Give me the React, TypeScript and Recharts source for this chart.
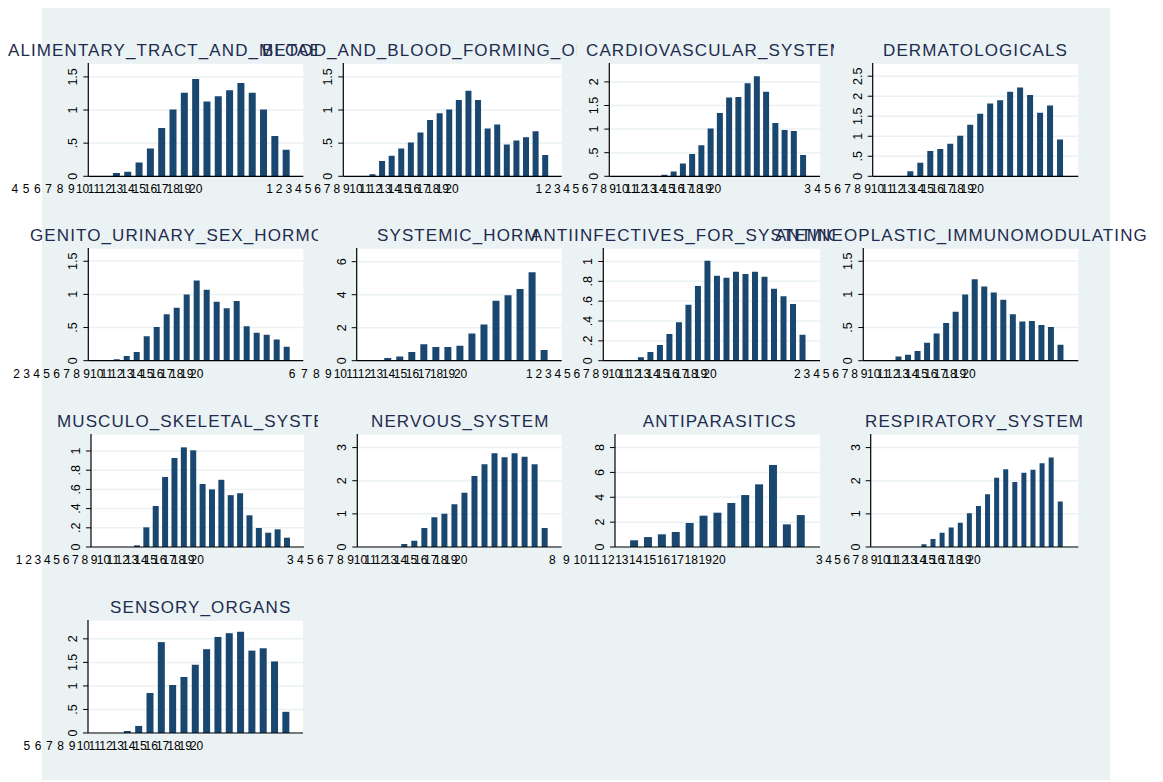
import React from 'react';
import { BarChart, Bar, XAxis, YAxis, CartesianGrid } from 'recharts';

// ---------- data ----------
const TITLES = [
  'ALIMENTARY_TRACT_AND_METABOLISM',
  'BLOOD_AND_BLOOD_FORMING_ORGANS',
  'CARDIOVASCULAR_SYSTEM',
  'DERMATOLOGICALS',
  'GENITO_URINARY_SEX_HORMONES',
  'SYSTEMIC_HORMONAL_PREPARATIONS',
  'ANTIINFECTIVES_FOR_SYSTEMIC_USE',
  'ANTINEOPLASTIC_IMMUNOMODULATING',
  'MUSCULO_SKELETAL_SYSTEM',
  'NERVOUS_SYSTEM',
  'ANTIPARASITICS',
  'RESPIRATORY_SYSTEM',
  'SENSORY_ORGANS',
];

const X_LABELS = [1, 2, 3, 4, 5, 6, 7, 8, 9, 10, 11, 12, 13, 14, 15, 16, 17, 18, 19, 20];

const ALIMENTARY = [0.05, 0.07, 0.21, 0.42, 0.73, 1.01, 1.26, 1.47, 1.13, 1.21, 1.3, 1.41, 1.26, 1.01, 0.61, 0.4];
const BLOOD = [0.03, 0.23, 0.31, 0.42, 0.51, 0.66, 0.85, 0.95, 1.01, 1.15, 1.29, 1.15, 0.72, 0.78, 0.48, 0.54, 0.59, 0.68, 0.32];
const CARDIO = [0.035, 0.1, 0.27, 0.47, 0.66, 1.01, 1.34, 1.67, 1.68, 1.97, 2.12, 1.79, 1.13, 0.98, 0.96, 0.45];
const DERMA = [0.125, 0.34, 0.63, 0.68, 0.81, 1.01, 1.29, 1.56, 1.82, 1.9, 2.11, 2.22, 2.03, 1.59, 1.77, 0.92];
const GENITO = [0.02, 0.07, 0.13, 0.37, 0.51, 0.7, 0.8, 1.0, 1.21, 1.07, 0.89, 0.79, 0.9, 0.52, 0.42, 0.39, 0.32, 0.21];
const SYSTEMIC = [0.16, 0.26, 0.52, 0.99, 0.83, 0.83, 0.91, 1.65, 2.2, 3.63, 3.97, 4.35, 5.36, 0.65];
const ANTIINF = [0.034, 0.087, 0.158, 0.27, 0.387, 0.565, 0.753, 1.008, 0.857, 0.837, 0.897, 0.874, 0.897, 0.847, 0.726, 0.649, 0.571, 0.262];
const ANTINEO = [0.065, 0.09, 0.146, 0.27, 0.41, 0.57, 0.74, 1.0, 1.23, 1.12, 1.03, 0.92, 0.7, 0.59, 0.6, 0.54, 0.51, 0.24];
const MUSCULO = [0.017, 0.205, 0.427, 0.729, 0.927, 1.038, 1.007, 0.656, 0.6, 0.7, 0.54, 0.56, 0.33, 0.198, 0.149, 0.184, 0.097];
const NERVOUS = [0.09, 0.19, 0.57, 0.9, 1.005, 1.29, 1.64, 2.14, 2.5, 2.83, 2.71, 2.83, 2.72, 2.5, 0.57];
const ANTIPAR = [0.54, 0.8, 1.02, 1.21, 1.93, 2.52, 2.76, 3.54, 4.18, 5.04, 6.6, 1.82, 2.57];
const RESP = [0.08, 0.24, 0.43, 0.59, 0.73, 1.02, 1.24, 1.59, 2.09, 2.35, 1.96, 2.24, 2.33, 2.53, 2.7, 1.37];
const SENSORY = [0.04, 0.15, 0.85, 1.93, 1.02, 1.19, 1.45, 1.78, 2.04, 2.12, 2.15, 1.75, 1.8, 1.52, 0.45];

const Y_15 = [0, 0.5, 1, 1.5];
const Y_20 = [0, 0.5, 1, 1.5, 2];
const Y_25 = [0, 0.5, 1, 1.5, 2, 2.5];
const Y_6 = [0, 2, 4, 6];
const Y_8 = [0, 2, 4, 6, 8];
const Y_1 = [0, 0.2, 0.4, 0.6, 0.8, 1];
const Y_3 = [0, 1, 2, 3];

// ---------- style ----------
const BG = '#eaf2f3';
const BAR = '#1a476f';
const GRID = '#eaf2f3';
const AXIS = '#000000';
const TITLE_COLOR = '#1e2b4f';
const FONT = '"Liberation Sans", Arial, Helvetica, sans-serif';

const ROWS = [
  { top: 62.7, bottom: 176, titleTop: 40.8 },
  { top: 248.3, bottom: 361, titleTop: 225.8 },
  { top: 434, bottom: 547, titleTop: 412.4 },
  { top: 620, bottom: 733, titleTop: 598 },
];

// layout of each panel (plot box in px, x-domain in slot units, first bar slot, label clip)
const PANELS = [
  { values: ALIMENTARY, yTicks: Y_15, row: 0, left: 88.3, right: 303.3, yMax: 1.71, lo: 10.5, hi: 29.5, first: 13, tLeft: 8, tClip: 317, lClip: 0 },
  { values: BLOOD, yTicks: Y_15, row: 0, left: 343.3, right: 561.7, yMax: 1.71, lo: 8.68, hi: 31.44, first: 11.7, tLeft: 262, tClip: 577, lClip: 262 },
  { values: CARDIO, yTicks: Y_20, row: 0, left: 609.3, right: 820, yMax: 2.4, lo: 8.63, hi: 31.42, first: 14.55, tLeft: 586, tClip: 834, lClip: 525 },
  { values: DERMA, yTicks: Y_25, row: 0, left: 872.7, right: 1078.3, yMax: 2.83, lo: 9.52, hi: 30.12, first: 13.29, tLeft: 883, tClip: 1163, lClip: 803 },
  { values: GENITO, yTicks: Y_15, row: 1, left: 88.3, right: 303.3, yMax: 1.7, lo: 9.16, hi: 30.66, first: 12, tLeft: 30, tClip: 318, lClip: 10 },
  { values: SYSTEMIC, yTicks: Y_6, row: 1, left: 356.7, right: 561.7, yMax: 6.83, lo: 11.36, hi: 28.4, first: 13.9, tLeft: 377, tClip: 537, lClip: 284 },
  { values: ANTIINF, yTicks: Y_1, row: 1, left: 603.3, right: 820, yMax: 1.136, lo: 8.78, hi: 31.57, first: 12.71, tLeft: 531, tClip: 834, lClip: 522 },
  { values: ANTINEO, yTicks: Y_15, row: 1, left: 863.3, right: 1078.3, yMax: 1.7, lo: 8.91, hi: 31.47, first: 12.58, tLeft: 775, tClip: 1163, lClip: 796 },
  { values: MUSCULO, yTicks: Y_1, row: 2, left: 91, right: 304, yMax: 1.177, lo: 8.67, hi: 31.39, first: 13.54, tLeft: 57, tClip: 318, lClip: 0 },
  { values: NERVOUS, yTicks: Y_3, row: 2, left: 357.3, right: 561.7, yMax: 3.41, lo: 9.68, hi: 30.07, first: 14.37, tLeft: 371, tClip: 1163, lClip: 282 },
  { values: ANTIPAR, yTicks: Y_8, row: 2, left: 615, right: 820, yMax: 9.09, lo: 12.51, hi: 27.27, first: 13.88, tLeft: 642.7, tClip: 1163, lClip: 540 },
  { values: RESP, yTicks: Y_3, row: 2, left: 870.7, right: 1078.3, yMax: 3.41, lo: 8.64, hi: 31.48, first: 14.5, tLeft: 865, tClip: 1163, lClip: 812 },
  { values: SENSORY, yTicks: Y_20, row: 3, left: 88, right: 303, yMax: 2.4, lo: 10.41, hi: 29.4, first: 13.9, tLeft: 110, tClip: 1163, lClip: 24 },
];

const fmtY = (v: number) => {
  if (v === 0) return '0';
  const s = String(v);
  return s.startsWith('0.') ? s.slice(1) : s;
};

const YTick = (props: any) => {
  const { x, y, payload } = props;
  return (
    <text
      transform={`translate(${x - 4},${y}) rotate(-90)`}
      textAnchor="middle"
      fontSize={12.5}
      fontFamily={FONT}
      fill="#000"
    >
      {fmtY(payload.value)}
    </text>
  );
};

const makeXTick = (clip: number) => (props: any) => {
  const { x, y, payload } = props;
  if (x < clip) return <g />;
  return (
    <text x={x} y={y + 9} textAnchor="middle" fontSize={12} fontFamily={FONT} fill="#000">
      {String(payload.value)}
    </text>
  );
};

const YAXIS_W = 30;
const XAXIS_H = 24;
const MT = 10;
const MB = 2;

const Panel = ({ p }: { p: any }) => {
  const row = ROWS[p.row];
  const data = p.values.map((v: number, i: number) => ({ x: p.first + i, v }));
  const width = Math.round(p.right) + 12;
  const height = row.bottom - row.top + MT + XAXIS_H + MB;
  const XTick = makeXTick(p.lClip);
  return (
    <div style={{ position: 'absolute', left: 0, top: row.top - MT }}>
      <BarChart
        width={width}
        height={height}
        data={data}
        margin={{ top: MT, right: width - p.right, left: p.left - YAXIS_W, bottom: MB }}
      >
        <CartesianGrid vertical={false} stroke={GRID} strokeWidth={1.5} fill="#ffffff" />
        <XAxis
          dataKey="x"
          type="number"
          domain={[p.lo, p.hi]}
          allowDataOverflow
          ticks={X_LABELS}
          interval={0}
          tick={<XTick />}
          tickLine={false}
          axisLine={{ stroke: AXIS, strokeWidth: 1.2 }}
          height={XAXIS_H}
        />
        <YAxis
          type="number"
          domain={[0, p.yMax]}
          allowDataOverflow
          ticks={p.yTicks}
          interval={0}
          width={YAXIS_W}
          tick={<YTick />}
          tickSize={5}
          tickLine={{ stroke: AXIS }}
          axisLine={{ stroke: AXIS, strokeWidth: 1.2 }}
        />
        <Bar dataKey="v" fill={BAR} barSize={Math.max(5, Math.round(((p.right - p.left) / (p.hi - p.lo)) * 0.6))} isAnimationActive={false} />
      </BarChart>
    </div>
  );
};

export default function App() {
  return (
    <div
      style={{
        position: 'relative',
        width: 1163,
        height: 782,
        margin: '-8px 0 0 -8px',
        background: '#ffffff',
        overflow: 'hidden',
        fontFamily: FONT,
      }}
    >
      <div style={{ position: 'absolute', left: 42, top: 8, width: 1068, height: 772, background: BG }} />
      {PANELS.map((p, i) => (
        <Panel key={i} p={p} />
      ))}
      {PANELS.map((p, i) => (
        <div
          key={'t' + i}
          style={{
            position: 'absolute',
            left: p.tLeft,
            top: ROWS[p.row].titleTop,
            width: p.tClip - p.tLeft,
            overflow: 'hidden',
            whiteSpace: 'nowrap',
            fontSize: 17,
            lineHeight: '20px',
            letterSpacing: '1.1px',
            color: TITLE_COLOR,
          }}
        >
          {TITLES[i]}
        </div>
      ))}
    </div>
  );
}
